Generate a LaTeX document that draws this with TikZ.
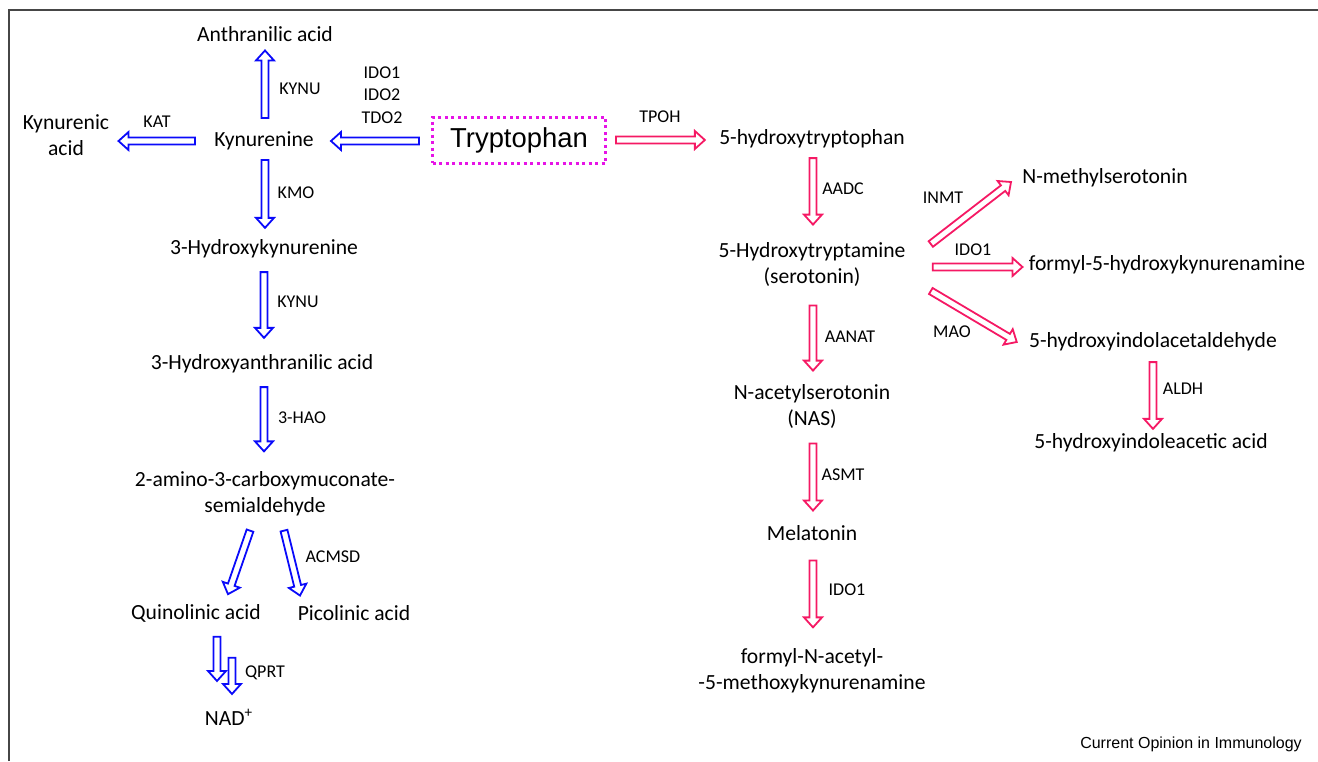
\documentclass[tikz,border=0pt]{standalone}
\usepackage{fontspec}
\setmainfont{Carlito}
\newfontfamily\arialfont{Liberation Sans}
\usetikzlibrary{calc}

\definecolor{trpblue}{RGB}{10,10,250}
\definecolor{serored}{RGB}{245,25,100}
\definecolor{boxpink}{RGB}{230,20,230}
\definecolor{framegray}{RGB}{70,70,70}

\def\shaftw{1.75pt}
\def\headw{4.5pt}
\def\headl{5pt}

\tikzset{
  chem/.style={inner sep=0pt, align=center, font=\fontsize{10.8}{13}\selectfont},
  enz/.style={inner sep=0pt, align=center, font=\fontsize{9}{11.25}\selectfont},
  hollow/.style={draw=#1, fill=white, line width=0.9pt, line join=miter,
    to path={let \p1=(\tikztostart), \p2=(\tikztotarget),
      \n1={atan2(\y2-\y1,\x2-\x1)} in
      ($(\p1)+(\n1+90:\shaftw)$)
      -- ($(\p2)+(\n1+180:\headl)+(\n1+90:\shaftw)$)
      -- ($(\p2)+(\n1+180:\headl)+(\n1+90:\headw)$)
      -- (\p2)
      -- ($(\p2)+(\n1+180:\headl)+(\n1-90:\headw)$)
      -- ($(\p2)+(\n1+180:\headl)+(\n1-90:\shaftw)$)
      -- ($(\p1)+(\n1-90:\shaftw)$) -- cycle}}
}

\begin{document}
\begin{tikzpicture}[x=0.5pt, y=-0.5pt]
  \useasboundingbox (0,0) rectangle (1318,761);
  \draw[framegray, line width=1pt] (9,761) -- (9,10) -- (1318,10);

  \node[draw=boxpink, line width=1.5pt, dash pattern=on 1.5pt off 1.75pt,
        minimum width=86.5pt, minimum height=23pt, inner sep=0pt,
        font=\arialfont\fontsize{13.7}{16}\selectfont] (Trp) at (519,140) {Tryptophan};

  % kynurenine side
  \node[chem] (Kyn)  at (264,141) {Kynurenine};
  \node[chem] (Anth) at (265,34)  {Anthranilic acid};
  \node[chem] (KynA) at (66,135)  {Kynurenic\\acid};
  \node[chem] (HK)   at (264,249) {3-Hydroxykynurenine};
  \node[chem] (HAA)  at (262,364) {3-Hydroxyanthranilic acid};
  \node[chem] (ACMS) at (265,494) {2-amino-3-carboxymuconate-\\semialdehyde};
  \node[chem] (Quin) at (196,613) {Quinolinic acid};
  \node[chem] (Pic)  at (354,613) {Picolinic acid};
  \node[chem] (NAD)  at (229,717) {NAD\textsuperscript{+}};

  % serotonin side
  \node[chem] (HTP)  at (812,139)   {5-hydroxytryptophan};
  \node[chem] (Sero) at (812,264.5) {5-Hydroxytryptamine\\(serotonin)};
  \node[chem] (NAS)  at (812,406)   {N-acetylserotonin\\(NAS)};
  \node[chem] (Mel)  at (812,533)   {Melatonin};
  \node[chem] (FAMK) at (812,671)   {formyl-N-acetyl-\\-5-methoxykynurenamine};
  \node[chem] (NMS)  at (1105,178)  {N-methylserotonin};
  \node[chem] (FHK)  at (1167,265)  {formyl-5-hydroxykynurenamine};
  \node[chem] (HIAL) at (1153,342)  {5-hydroxyindolacetaldehyde};
  \node[chem] (HIAA) at (1151,443)  {5-hydroxyindoleacetic acid};

  % enzymes
  \node[enz] (eKYNUa) at (300,89)  {KYNU};
  \node[enz] (eKAT)   at (157,122) {KAT};
  \node[enz] (eIDO)   at (382,95)  {IDO1\\IDO2\\TDO2};
  \node[enz] (eTPOH)  at (660,117) {TPOH};
  \node[enz] (eKMO)   at (296,193) {KMO};
  \node[enz] (eKYNUb) at (298,302) {KYNU};
  \node[enz] (eHAO)   at (302,418) {3-HAO};
  \node[enz] (eACMSD) at (333,557) {ACMSD};
  \node[enz] (eQPRT)  at (265,673) {QPRT};
  \node[enz] (eAADC)  at (843,189) {AADC};
  \node[enz] (eAANAT) at (850,337) {AANAT};
  \node[enz] (eASMT)  at (843,475) {ASMT};
  \node[enz] (eIDOb)  at (847,590) {IDO1};
  \node[enz] (eINMT)  at (943,198) {INMT};
  \node[enz] (eIDOc)  at (973,250) {IDO1};
  \node[enz] (eMAO)   at (952,332) {MAO};
  \node[enz] (eALDH)  at (1183,389) {ALDH};

  \node[inner sep=0pt, font=\arialfont\fontsize{8}{10}\selectfont] (Credit) at (1191,744) {Current Opinion in Immunology};

  \path[hollow=trpblue]
    ($(Kyn.north)+(1,-13.5)$) edge ($(Anth.south)+(0,8.5)$)
    ($(Kyn.west)+(-19,0)$)    edge ($(KynA.east)+(9,6)$)
    ($(Trp.west)+(-12,1)$)    edge ($(Kyn.east)+(17,0)$)
    ($(Kyn.south)+(1,9.5)$)   edge ($(HK.north)+(1,-11.5)$)
    ($(HK.south)+(0,13.5)$)   edge ($(HAA.north)+(2,-16.5)$)
    ($(HAA.south)+(2,13.5)$)  edge ($(ACMS.north)+(-1,-20)$)
    ($(ACMS.south)+(-15,14)$) edge ($(Quin.north)+(32,-9.5)$)
    ($(ACMS.south)+(19,14)$)  edge ($(Pic.north)+(-54,-9.5)$)
    ($(Quin.south)+(21,14.5)$) edge ($(NAD.north)+(-12,-27.5)$)
    ($(Quin.south)+(36,35.5)$) edge ($(NAD.north)+(3,-14.5)$);

  \path[hollow=serored]
    ($(Trp.east)+(9,0)$)      edge ($(HTP.west)+(-14,1)$)
    ($(HTP.south)+(1,9.5)$)   edge ($(Sero.north)+(1,-17.5)$)
    ($(Sero.south)+(1,18.5)$) edge ($(NAS.north)+(1,-13)$)
    ($(NAS.south)+(1,15)$)    edge ($(Mel.north)+(1,-14.5)$)
    ($(Mel.south)+(1,19.5)$)  edge ($(FAMK.north)+(1,-21)$)
    ($(Sero.east)+(25,-20.5)$) edge ($(NMS.west)+(-11,4)$)
    ($(Sero.east)+(27,2.5)$)  edge ($(FHK.west)+(-6,2)$)
    ($(Sero.east)+(25,26.5)$) edge ($(HIAL.west)+(-12,0)$)
    ($(HIAL.south)+(0,10.5)$) edge ($(HIAA.north)+(2,-4.5)$);
\end{tikzpicture}
\end{document}
